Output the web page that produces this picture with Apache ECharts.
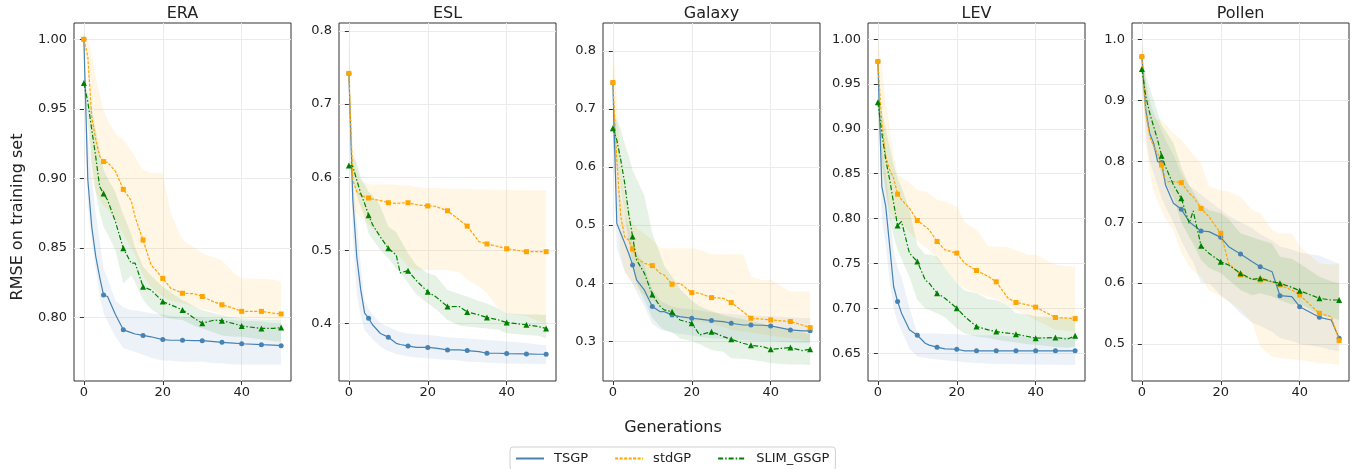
<!DOCTYPE html>
<html>
<head>
<meta charset="utf-8">
<title>RMSE on training set</title>
<script src="https://cdn.jsdelivr.net/npm/echarts@6/dist/echarts.min.js"></script>
<style>
  html, body { margin: 0; padding: 0; background: #fff; }
  #chart { width: 1359px; height: 469px; }
</style>
</head>
<body>
<div id="chart"></div>
<script>
'use strict';

const GENS = [0, 1, 2, 3, 4, 5, 6, 8, 10, 12, 13, 15, 17, 20, 22, 25, 28, 30, 33, 35, 38, 40, 45, 48, 50];
const X_TICKS = [0, 20, 40];

const DATASETS = ['ERA', 'ESL', 'Galaxy', 'LEV', 'Pollen'];
const METHODS = ['TSGP', 'stdGP', 'SLIM_GSGP'];

// y tick labels per panel
const ERA_YTICKS = [0.80, 0.85, 0.90, 0.95, 1.00];
const ESL_YTICKS = [0.4, 0.5, 0.6, 0.7, 0.8];
const GAL_YTICKS = [0.3, 0.4, 0.5, 0.6, 0.7, 0.8];
const LEV_YTICKS = [0.65, 0.70, 0.75, 0.80, 0.85, 0.90, 0.95, 1.00];
const POL_YTICKS = [0.5, 0.6, 0.7, 0.8, 0.9, 1.0];

// ERA
const ERA_TSGP    = [1.000, 0.899, 0.865, 0.844, 0.829, 0.816, 0.815, 0.802, 0.791, 0.789, 0.788, 0.787, 0.786, 0.784, 0.7835, 0.7835, 0.7833, 0.7832, 0.7825, 0.782, 0.7815, 0.781, 0.7803, 0.780, 0.7796];
const ERA_TSGP_LO = [1.000, 0.880, 0.855, 0.835, 0.815, 0.803, 0.797, 0.786, 0.778, 0.776, 0.775, 0.773, 0.771, 0.769, 0.769, 0.768, 0.768, 0.768, 0.767, 0.767, 0.766, 0.766, 0.766, 0.766, 0.766];
const ERA_TSGP_HI = [1.000, 0.930, 0.900, 0.875, 0.855, 0.835, 0.828, 0.812, 0.807, 0.805, 0.805, 0.804, 0.803, 0.802, 0.801, 0.8005, 0.800, 0.7995, 0.799, 0.7985, 0.798, 0.7975, 0.797, 0.796, 0.796];
const ERA_STD     = [1.000, 0.9875, 0.944, 0.928, 0.916, 0.912, 0.9115, 0.905, 0.892, 0.884, 0.872, 0.8556, 0.838, 0.828, 0.821, 0.8173, 0.817, 0.815, 0.811, 0.809, 0.8065, 0.8043, 0.8043, 0.803, 0.8024];
const ERA_STD_LO  = [1.000, 0.975, 0.900, 0.890, 0.885, 0.880, 0.878, 0.870, 0.860, 0.850, 0.845, 0.830, 0.822, 0.815, 0.812, 0.810, 0.808, 0.806, 0.804, 0.802, 0.801, 0.800, 0.799, 0.7985, 0.798];
const ERA_STD_HI  = [1.000, 1.000, 0.990, 0.972, 0.960, 0.949, 0.942, 0.932, 0.9275, 0.920, 0.9155, 0.906, 0.904, 0.9036, 0.875, 0.8556, 0.850, 0.846, 0.843, 0.841, 0.832, 0.828, 0.828, 0.827, 0.826];
const ERA_SLIM    = [0.9685, 0.955, 0.935, 0.9156, 0.894, 0.889, 0.8844, 0.8688, 0.8496, 0.839, 0.839, 0.822, 0.8197, 0.8113, 0.809, 0.8053, 0.7993, 0.7957, 0.798, 0.7976, 0.7955, 0.7938, 0.792, 0.792, 0.7926];
const ERA_SLIM_LO = [0.9685, 0.940, 0.910, 0.890, 0.875, 0.865, 0.860, 0.8484, 0.8245, 0.830, 0.825, 0.8125, 0.806, 0.8005, 0.799, 0.798, 0.794, 0.792, 0.789, 0.787, 0.786, 0.786, 0.784, 0.783, 0.7825];
const ERA_SLIM_HI = [0.9685, 0.962, 0.950, 0.935, 0.920, 0.906, 0.900, 0.890, 0.874, 0.860, 0.850, 0.8365, 0.830, 0.822, 0.818, 0.8125, 0.808, 0.805, 0.803, 0.8017, 0.800, 0.7993, 0.7985, 0.798, 0.798];

// ESL
const ESL_TSGP    = [0.742, 0.569, 0.491, 0.446, 0.414, 0.407, 0.398, 0.386, 0.381, 0.3726, 0.371, 0.369, 0.367, 0.367, 0.366, 0.3635, 0.3635, 0.3626, 0.3612, 0.359, 0.359, 0.3585, 0.358, 0.3576, 0.3576];
const ESL_TSGP_LO = [0.742, 0.520, 0.440, 0.410, 0.390, 0.385, 0.378, 0.368, 0.362, 0.358, 0.357, 0.3544, 0.353, 0.352, 0.351, 0.350, 0.349, 0.3475, 0.347, 0.346, 0.3455, 0.345, 0.3447, 0.3444, 0.3444];
const ESL_TSGP_HI = [0.742, 0.600, 0.540, 0.480, 0.430, 0.420, 0.412, 0.400, 0.395, 0.390, 0.388, 0.386, 0.385, 0.384, 0.383, 0.381, 0.380, 0.379, 0.378, 0.377, 0.376, 0.375, 0.373, 0.371, 0.370];
const ESL_STD     = [0.742, 0.596, 0.580, 0.5756, 0.573, 0.5715, 0.570, 0.568, 0.565, 0.5642, 0.5645, 0.565, 0.5624, 0.5606, 0.560, 0.554, 0.5414, 0.533, 0.5118, 0.5086, 0.505, 0.502, 0.498, 0.498, 0.498];
const ESL_STD_LO  = [0.700, 0.560, 0.550, 0.545, 0.540, 0.535, 0.530, 0.520, 0.500, 0.496, 0.490, 0.478, 0.473, 0.473, 0.473, 0.473, 0.470, 0.460, 0.450, 0.441, 0.420, 0.4137, 0.410, 0.403, 0.400];
const ESL_STD_HI  = [0.789, 0.640, 0.610, 0.595, 0.592, 0.590, 0.590, 0.590, 0.590, 0.590, 0.589, 0.589, 0.587, 0.585, 0.585, 0.584, 0.584, 0.584, 0.583, 0.583, 0.5825, 0.5825, 0.582, 0.582, 0.582];
const ESL_SLIM    = [0.616, 0.615, 0.596, 0.578, 0.564, 0.548, 0.535, 0.518, 0.5026, 0.4935, 0.469, 0.472, 0.459, 0.443, 0.4365, 0.4228, 0.423, 0.4155, 0.4114, 0.408, 0.4045, 0.401, 0.398, 0.3955, 0.393];
const ESL_SLIM_LO = [0.616, 0.600, 0.575, 0.560, 0.545, 0.523, 0.515, 0.500, 0.489, 0.475, 0.470, 0.455, 0.440, 0.4274, 0.420, 0.4046, 0.397, 0.3955, 0.394, 0.393, 0.391, 0.3863, 0.384, 0.383, 0.3795];
const ESL_SLIM_HI = [0.616, 0.630, 0.620, 0.600, 0.590, 0.580, 0.575, 0.560, 0.532, 0.525, 0.515, 0.496, 0.480, 0.4684, 0.465, 0.4456, 0.440, 0.4365, 0.430, 0.427, 0.420, 0.4137, 0.412, 0.412, 0.4114];

// Galaxy
const GAL_TSGP    = [0.745, 0.503, 0.486, 0.469, 0.4515, 0.4315, 0.4056, 0.388, 0.3597, 0.351, 0.351, 0.3454, 0.3425, 0.3396, 0.338, 0.3356, 0.3338, 0.331, 0.328, 0.328, 0.3276, 0.3264, 0.3195, 0.318, 0.318];
const GAL_TSGP_LO = [0.700, 0.460, 0.440, 0.420, 0.410, 0.400, 0.385, 0.360, 0.330, 0.320, 0.318, 0.315, 0.313, 0.310, 0.308, 0.305, 0.304, 0.303, 0.302, 0.301, 0.300, 0.300, 0.298, 0.297, 0.297];
const GAL_TSGP_HI = [0.780, 0.600, 0.550, 0.520, 0.495, 0.470, 0.455, 0.430, 0.390, 0.370, 0.366, 0.360, 0.357, 0.355, 0.353, 0.350, 0.348, 0.347, 0.345, 0.344, 0.3435, 0.343, 0.341, 0.340, 0.340];
const GAL_STD     = [0.7455, 0.6123, 0.5147, 0.480, 0.4745, 0.459, 0.443, 0.4343, 0.4303, 0.417, 0.414, 0.3982, 0.3999, 0.3838, 0.3827, 0.3752, 0.374, 0.3666, 0.351, 0.3396, 0.338, 0.3367, 0.334, 0.328, 0.3235];
const GAL_STD_LO  = [0.680, 0.550, 0.450, 0.420, 0.410, 0.400, 0.390, 0.380, 0.370, 0.360, 0.358, 0.350, 0.345, 0.335, 0.333, 0.330, 0.325, 0.320, 0.317, 0.315, 0.312, 0.310, 0.305, 0.303, 0.300];
const GAL_STD_HI  = [0.820, 0.720, 0.600, 0.560, 0.530, 0.503, 0.495, 0.485, 0.4745, 0.460, 0.460, 0.460, 0.460, 0.460, 0.458, 0.450, 0.450, 0.450, 0.450, 0.411, 0.405, 0.4056, 0.3855, 0.3855, 0.3855];
const GAL_SLIM    = [0.6668, 0.6467, 0.6123, 0.572, 0.520, 0.4802, 0.440, 0.417, 0.3804, 0.3597, 0.354, 0.351, 0.3367, 0.331, 0.3109, 0.3166, 0.308, 0.3034, 0.2966, 0.2931, 0.2908, 0.2862, 0.2891, 0.284, 0.2862];
const GAL_SLIM_LO = [0.640, 0.600, 0.560, 0.520, 0.470, 0.430, 0.400, 0.370, 0.340, 0.325, 0.320, 0.315, 0.305, 0.300, 0.295, 0.285, 0.282, 0.2707, 0.270, 0.268, 0.265, 0.262, 0.260, 0.260, 0.259];
const GAL_SLIM_HI = [0.700, 0.680, 0.665, 0.640, 0.620, 0.595, 0.580, 0.550, 0.486, 0.450, 0.430, 0.411, 0.390, 0.370, 0.360, 0.352, 0.345, 0.342, 0.338, 0.335, 0.330, 0.325, 0.318, 0.315, 0.312];

// LEV
const LEV_TSGP    = [0.975, 0.836, 0.8135, 0.769, 0.7243, 0.7076, 0.6946, 0.676, 0.670, 0.6611, 0.659, 0.6567, 0.6548, 0.6544, 0.6526, 0.6526, 0.6526, 0.6526, 0.6526, 0.6526, 0.6526, 0.6526, 0.6526, 0.6526, 0.6526];
const LEV_TSGP_LO = [0.970, 0.800, 0.770, 0.730, 0.700, 0.685, 0.675, 0.655, 0.6463, 0.645, 0.644, 0.643, 0.642, 0.641, 0.640, 0.639, 0.6385, 0.638, 0.638, 0.6378, 0.6375, 0.6375, 0.637, 0.637, 0.637];
const LEV_TSGP_HI = [0.980, 0.880, 0.850, 0.810, 0.765, 0.745, 0.735, 0.700, 0.6723, 0.672, 0.672, 0.672, 0.6715, 0.671, 0.6705, 0.670, 0.670, 0.670, 0.669, 0.669, 0.6685, 0.668, 0.668, 0.668, 0.668];
const LEV_STD     = [0.9751, 0.9064, 0.8692, 0.8543, 0.845, 0.8272, 0.821, 0.8116, 0.7979, 0.7912, 0.7875, 0.7745, 0.7652, 0.7615, 0.7503, 0.7421, 0.7355, 0.7295, 0.7113, 0.7065, 0.7039, 0.7013, 0.6898, 0.689, 0.6886];
const LEV_STD_LO  = [0.950, 0.870, 0.830, 0.810, 0.800, 0.800, 0.795, 0.785, 0.775, 0.768, 0.765, 0.755, 0.745, 0.728, 0.722, 0.717, 0.713, 0.710, 0.703, 0.698, 0.692, 0.687, 0.676, 0.675, 0.674];
const LEV_STD_HI  = [1.000, 0.970, 0.930, 0.900, 0.870, 0.8488, 0.846, 0.840, 0.832, 0.830, 0.828, 0.821, 0.819, 0.8135, 0.796, 0.7875, 0.769, 0.769, 0.768, 0.765, 0.7596, 0.7596, 0.7485, 0.747, 0.7466];
const LEV_SLIM    = [0.9298, 0.8952, 0.8655, 0.8432, 0.8172, 0.7923, 0.7968, 0.7615, 0.7522, 0.7317, 0.728, 0.7169, 0.7113, 0.7002, 0.6909, 0.6797, 0.676, 0.6741, 0.6723, 0.6712, 0.6686, 0.6667, 0.6675, 0.6656, 0.6693];
const LEV_SLIM_LO = [0.920, 0.860, 0.830, 0.800, 0.780, 0.765, 0.755, 0.735, 0.7094, 0.700, 0.698, 0.6946, 0.690, 0.6779, 0.672, 0.6686, 0.667, 0.6649, 0.663, 0.662, 0.660, 0.6593, 0.657, 0.656, 0.6575];
const LEV_SLIM_HI = [0.940, 0.920, 0.900, 0.880, 0.860, 0.845, 0.835, 0.810, 0.7707, 0.760, 0.760, 0.7577, 0.745, 0.728, 0.720, 0.7169, 0.710, 0.7094, 0.703, 0.6946, 0.693, 0.6909, 0.690, 0.690, 0.689];

// Pollen
const POL_TSGP    = [0.9716, 0.884, 0.8457, 0.8293, 0.7992, 0.798, 0.761, 0.7309, 0.721, 0.7008, 0.6953, 0.6855, 0.6844, 0.675, 0.6597, 0.6477, 0.635, 0.6269, 0.6187, 0.5793, 0.5777, 0.5613, 0.5438, 0.5394, 0.5093];
const POL_TSGP_LO = [0.950, 0.840, 0.800, 0.780, 0.760, 0.740, 0.725, 0.700, 0.670, 0.645, 0.635, 0.600, 0.600, 0.580, 0.570, 0.550, 0.535, 0.530, 0.520, 0.510, 0.505, 0.500, 0.495, 0.490, 0.488];
const POL_TSGP_HI = [0.990, 0.930, 0.900, 0.880, 0.865, 0.850, 0.835, 0.810, 0.780, 0.760, 0.755, 0.745, 0.735, 0.720, 0.710, 0.700, 0.690, 0.680, 0.670, 0.660, 0.655, 0.650, 0.645, 0.637, 0.632];
const POL_STD     = [0.9716, 0.8786, 0.8403, 0.8239, 0.813, 0.7938, 0.7664, 0.7664, 0.7648, 0.7473, 0.742, 0.7226, 0.709, 0.6816, 0.6324, 0.6132, 0.606, 0.605, 0.6023, 0.5968, 0.5886, 0.5804, 0.5503, 0.5449, 0.5055];
const POL_STD_LO  = [0.950, 0.830, 0.780, 0.750, 0.735, 0.720, 0.705, 0.687, 0.650, 0.627, 0.620, 0.6105, 0.5886, 0.5777, 0.570, 0.5558, 0.535, 0.4956, 0.479, 0.477, 0.475, 0.4737, 0.4683, 0.467, 0.4655];
const POL_STD_HI  = [1.000, 0.930, 0.890, 0.870, 0.868, 0.8676, 0.860, 0.846, 0.835, 0.820, 0.810, 0.7965, 0.758, 0.7527, 0.750, 0.7418, 0.720, 0.7144, 0.687, 0.6816, 0.6816, 0.660, 0.632, 0.630, 0.632];
const POL_SLIM    = [0.9513, 0.906, 0.8786, 0.8567, 0.8348, 0.809, 0.791, 0.761, 0.739, 0.698, 0.7183, 0.6614, 0.6488, 0.6351, 0.6296, 0.616, 0.606, 0.6078, 0.6023, 0.5996, 0.593, 0.5875, 0.575, 0.5722, 0.5722];
const POL_SLIM_LO = [0.930, 0.870, 0.840, 0.820, 0.800, 0.780, 0.765, 0.740, 0.700, 0.675, 0.665, 0.6378, 0.625, 0.616, 0.605, 0.5886, 0.580, 0.5832, 0.578, 0.5722, 0.565, 0.5667, 0.5476, 0.543, 0.5394];
const POL_SLIM_HI = [0.970, 0.940, 0.920, 0.900, 0.880, 0.860, 0.850, 0.830, 0.790, 0.760, 0.750, 0.728, 0.720, 0.7144, 0.705, 0.6816, 0.675, 0.6707, 0.665, 0.6433, 0.640, 0.632, 0.6105, 0.603, 0.5996];

(function() {
  const FONT = 'DejaVu Sans';
  const TEXT_COLOR = '#222';

  // look of each method: colour, dash pattern, marker
  const METHOD_STYLE = {
    TSGP: { color: '#4682b4', dash: 'solid', symbol: 'circle', size: 5 },
    stdGP: { color: '#ffa500', dash: [3, 1.5], symbol: 'rect', size: 5 },
    SLIM_GSGP: { color: '#008000', dash: [5, 2, 1.5, 2], symbol: 'triangle', size: 6 }
  };

  // one entry per subplot
  const PANELS = [
    { yMin: 0.7542, yMax: 1.0117, yTicks: ERA_YTICKS, digits: 2,
      mean: [ERA_TSGP, ERA_STD, ERA_SLIM], lo: [ERA_TSGP_LO, ERA_STD_LO, ERA_SLIM_LO], hi: [ERA_TSGP_HI, ERA_STD_HI, ERA_SLIM_HI] },
    { yMin: 0.321, yMax: 0.811, yTicks: ESL_YTICKS, digits: 1,
      mean: [ESL_TSGP, ESL_STD, ESL_SLIM], lo: [ESL_TSGP_LO, ESL_STD_LO, ESL_SLIM_LO], hi: [ESL_TSGP_HI, ESL_STD_HI, ESL_SLIM_HI] },
    { yMin: 0.2316, yMax: 0.848, yTicks: GAL_YTICKS, digits: 1,
      mean: [GAL_TSGP, GAL_STD, GAL_SLIM], lo: [GAL_TSGP_LO, GAL_STD_LO, GAL_SLIM_LO], hi: [GAL_TSGP_HI, GAL_STD_HI, GAL_SLIM_HI] },
    { yMin: 0.619, yMax: 1.018, yTicks: LEV_YTICKS, digits: 2,
      mean: [LEV_TSGP, LEV_STD, LEV_SLIM], lo: [LEV_TSGP_LO, LEV_STD_LO, LEV_SLIM_LO], hi: [LEV_TSGP_HI, LEV_STD_HI, LEV_SLIM_HI] },
    { yMin: 0.4393, yMax: 1.0268, yTicks: POL_YTICKS, digits: 1,
      mean: [POL_TSGP, POL_STD, POL_SLIM], lo: [POL_TSGP_LO, POL_STD_LO, POL_SLIM_LO], hi: [POL_TSGP_HI, POL_STD_HI, POL_SLIM_HI] }
  ];

  // subplot boxes in pixels
  const GRID_LEFT = [74, 339, 603, 868, 1132];
  const GRID_TOP = 23;
  const GRID_W = 217;
  const GRID_H = 358;

  /**
   * shaded band between lo and hi, drawn as one polygon through the axes
   */
  function bandSeries(p, m, lo, hi) {
    const color = METHOD_STYLE[METHODS[m]].color;
    return {
      type: 'custom',
      xAxisIndex: p,
      yAxisIndex: p,
      silent: true,
      clip: true,
      z: 1,
      data: GENS.map((g, k) => [g, lo[k], hi[k]]),
      encode: { x: 0, y: [1, 2] },
      renderItem: function(params, api) {
        if (params.dataIndex !== 0) return null;
        const pts = [];
        for (let k = 0; k < GENS.length; k++) {
          pts.push(api.coord([GENS[k], hi[k]]));
        }
        for (let k = GENS.length - 1; k >= 0; k--) {
          pts.push(api.coord([GENS[k], lo[k]]));
        }
        return {
          type: 'polygon',
          shape: { points: pts },
          style: { fill: color, opacity: 0.1 }
        };
      }
    };
  }

  /**
   * mean curve with a marker every 5 generations
   */
  function meanSeries(p, m, values) {
    const name = METHODS[m];
    const st = METHOD_STYLE[name];
    return {
      name: name,
      type: 'line',
      xAxisIndex: p,
      yAxisIndex: p,
      data: GENS.map((g, k) => [g, values[k]]),
      symbol: function(v) { return v[0] % 5 === 0 ? st.symbol : 'none'; },
      symbolSize: st.size,
      showAllSymbol: true,
      lineStyle: { color: st.color, width: 1.2, type: st.dash },
      itemStyle: { color: st.color },
      emphasis: { disabled: true },
      z: 3 + m
    };
  }

  function initChart() {
    const chart = echarts.init(document.getElementById('chart'), null, { renderer: 'canvas' });

    const grids = [];
    const xAxes = [];
    const yAxes = [];
    const series = [];
    const graphics = [];

    PANELS.forEach(function(panel, p) {
      grids.push({
        left: GRID_LEFT[p], top: GRID_TOP, width: GRID_W, height: GRID_H,
        show: true, borderColor: '#333', borderWidth: 1, backgroundColor: 'transparent'
      });

      xAxes.push({
        type: 'value', gridIndex: p, min: -2.5, max: 52.5,
        axisLine: { show: false },
        axisTick: { show: true, customValues: X_TICKS, length: 4, lineStyle: { color: '#333' } },
        axisLabel: { customValues: X_TICKS, fontSize: 13, fontFamily: FONT, color: TEXT_COLOR, margin: 5 },
        splitLine: { show: true, lineStyle: { color: '#ebebeb', width: 1 } }
      });

      yAxes.push({
        type: 'value', gridIndex: p, min: panel.yMin, max: panel.yMax,
        axisLine: { show: false },
        axisTick: { show: true, customValues: panel.yTicks, length: 4, lineStyle: { color: '#333' } },
        axisLabel: {
          customValues: panel.yTicks, fontSize: 13, fontFamily: FONT, color: TEXT_COLOR, margin: 7,
          formatter: function(v) { return Number(v).toFixed(panel.digits); }
        },
        splitLine: { show: true, lineStyle: { color: '#ebebeb', width: 1 } }
      });

      // bands first so the curves sit on top
      for (let m = 0; m < METHODS.length; m++) {
        series.push(bandSeries(p, m, panel.lo[m], panel.hi[m]));
      }
      for (let m = 0; m < METHODS.length; m++) {
        series.push(meanSeries(p, m, panel.mean[m]));
      }

      graphics.push({
        type: 'text',
        x: GRID_LEFT[p] + GRID_W / 2,
        y: 14,
        silent: true,
        style: { text: DATASETS[p], fontSize: 16, fontFamily: FONT, fill: TEXT_COLOR, align: 'center', verticalAlign: 'middle' }
      });
    });

    graphics.push({
      type: 'text', x: 18, y: 217, rotation: Math.PI / 2, silent: true,
      style: { text: 'RMSE on training set', fontSize: 16, fontFamily: FONT, fill: TEXT_COLOR, align: 'center', verticalAlign: 'middle' }
    });
    graphics.push({
      type: 'text', x: 673, y: 428, silent: true,
      style: { text: 'Generations', fontSize: 16, fontFamily: FONT, fill: TEXT_COLOR, align: 'center', verticalAlign: 'middle' }
    });

    const option = {
      animation: false,
      backgroundColor: '#fff',
      grid: grids,
      xAxis: xAxes,
      yAxis: yAxes,
      series: series,
      graphic: graphics,
      legend: {
        data: METHODS.map(function(name) { return { name: name, itemStyle: { opacity: 0 } }; }),
        left: 510, top: 447,
        itemWidth: 28, itemHeight: 14, itemGap: 26,
        padding: [5, 6, 5, 5],
        borderColor: '#d0d0d0', borderWidth: 1, borderRadius: 3,
        selectedMode: false,
        textStyle: { fontSize: 13, fontFamily: FONT, color: TEXT_COLOR, padding: [0, 0, 0, 5] }
      }
    };

    chart.setOption(option);

    window.addEventListener('resize', function() {
      chart.resize();
    });
  }

  document.addEventListener('DOMContentLoaded', initChart);
})();
</script>
</body>
</html>
